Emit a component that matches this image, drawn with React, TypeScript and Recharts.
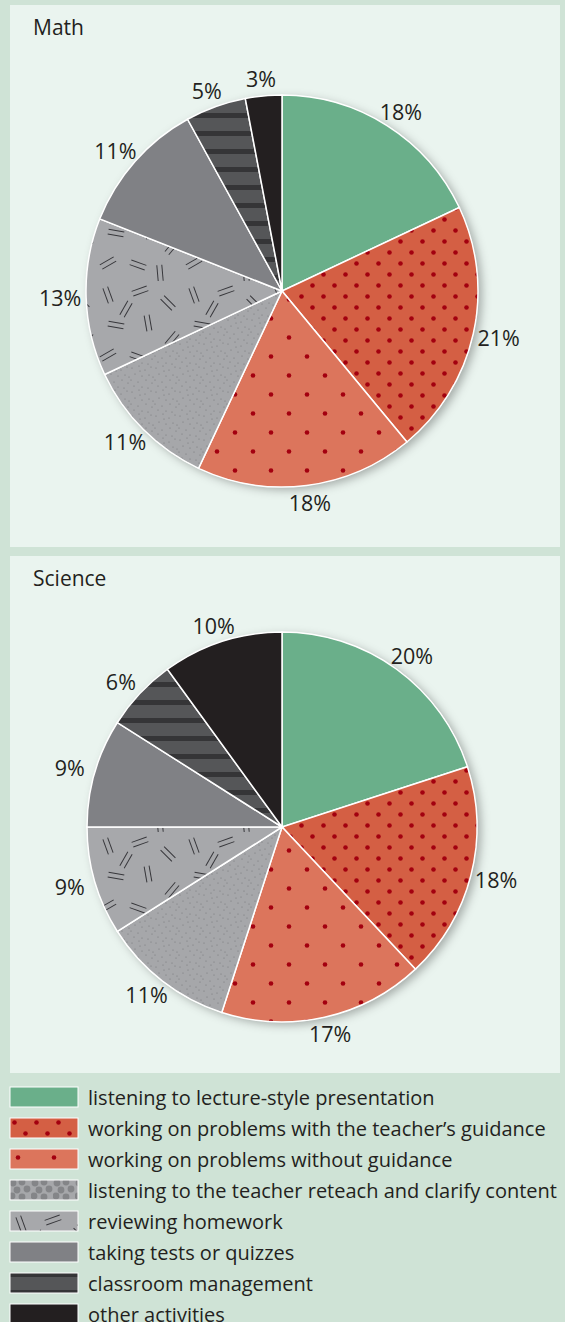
import React from 'react';
import { PieChart, Pie, Cell } from 'recharts';

const categories = [
  'listening to lecture-style presentation',
  'working on problems with the teacher\u2019s guidance',
  'working on problems without guidance',
  'listening to the teacher reteach and clarify content',
  'reviewing homework',
  'taking tests or quizzes',
  'classroom management',
  'other activities',
];
const mathValues = [18, 21, 18, 11, 13, 11, 5, 3];
const scienceValues = [20, 18, 17, 11, 9, 9, 6, 10];
const chartTitles = ['Math', 'Science'];

const fills = [
  '#6aaf8a',
  'url(#redDense)',
  'url(#redSparse)',
  'url(#stipple)',
  'url(#dashes)',
  '#808185',
  'url(#stripes)',
  '#231f20',
];
const legendFills = [
  '#6aaf8a',
  'url(#redDense)',
  'url(#redSparse)',
  'url(#circles)',
  'url(#dashes)',
  '#808185',
  'url(#stripes)',
  '#231f20',
];

const OUTER_BG = '#cfe3d6';
const PANEL_BG = '#eaf4ef';
const TEXT = '#231f20';
const FONT = '"Open Sans", "Noto Sans", sans-serif';

const stippleDots = [
  [2, 3], [9, 1], [15, 5], [21, 2], [5, 9], [12, 11], [19, 10], [1, 15],
  [8, 17], [16, 15], [22, 18], [4, 21], [12, 22], [18, 23], [10, 6], [23, 12],
];
const dashMarks = [
  [12, 14, 70], [44, 10, -20], [72, 22, 45], [20, 44, 10], [52, 42, 80],
  [76, 58, -50], [12, 74, -30], [42, 76, 20], [64, 84, 85], [30, 28, 120],
];
const circleDots = [
  [4, 4], [13, 3], [8, 11], [18, 10], [3, 17], [13, 18],
];

const Patterns = () => (
  <svg width={0} height={0} style={{ position: 'absolute' }}>
    <defs>
      <pattern id="redDense" patternUnits="userSpaceOnUse" width={22} height={22}>
        <rect width={22} height={22} fill="#d45f44" />
        <circle cx={5.5} cy={5.5} r={2.3} fill="#a3000f" />
        <circle cx={16.5} cy={16.5} r={2.3} fill="#a3000f" />
      </pattern>
      <pattern id="redSparse" patternUnits="userSpaceOnUse" width={36} height={38}>
        <rect width={36} height={38} fill="#dc755c" />
        <circle cx={9} cy={9.5} r={2.3} fill="#a3000f" />
        <circle cx={27} cy={28.5} r={2.3} fill="#a3000f" />
      </pattern>
      <pattern id="stipple" patternUnits="userSpaceOnUse" width={24} height={24}>
        <rect width={24} height={24} fill="#a6a7aa" />
        {stippleDots.map(([x, y], i) => (
          <circle key={i} cx={x} cy={y} r={0.6} fill="#77787b" />
        ))}
      </pattern>
      <pattern id="dashes" patternUnits="userSpaceOnUse" width={86} height={92}>
        <rect width={86} height={92} fill="#a7a8ab" />
        {dashMarks.map(([x, y, a], i) => (
          <g key={i} transform={`translate(${x},${y}) rotate(${a})`}>
            <line x1={-8} y1={-2.5} x2={8} y2={-2.5} stroke="#36363a" strokeWidth={1} />
            <line x1={-8} y1={2.5} x2={8} y2={2.5} stroke="#36363a" strokeWidth={1} />
          </g>
        ))}
      </pattern>
      <pattern id="stripes" patternUnits="userSpaceOnUse" width={18} height={18}>
        <rect width={18} height={18} fill="#555658" />
        <rect y={0} width={18} height={5} fill="#353537" />
      </pattern>
      <pattern id="circles" patternUnits="userSpaceOnUse" width={22} height={22}>
        <rect width={22} height={22} fill="#a6a7aa" />
        {circleDots.map(([x, y], i) => (
          <circle key={i} cx={x} cy={y} r={3.4} fill="#848588" />
        ))}
      </pattern>
      <filter id="pieShadow" x="-20%" y="-20%" width="140%" height="140%">
        <feDropShadow dx={4} dy={3} stdDeviation={5} floodColor="#000" floodOpacity={0.3} />
      </filter>
    </defs>
  </svg>
);

const RADIAN = Math.PI / 180;
const renderLabel = (props: any) => {
  const { cx, cy, midAngle, outerRadius, value } = props;
  const rx = outerRadius + 26;
  const ry = outerRadius + 17;
  const x = cx + rx * Math.cos(-midAngle * RADIAN);
  const y = cy + ry * Math.sin(-midAngle * RADIAN);
  return (
    <text x={x} y={y} fill={TEXT} textAnchor="middle" dominantBaseline="central"
      fontSize={21.5} fontWeight={500} fontFamily={FONT}>
      {`${value}%`}
    </text>
  );
};

const PiePanel = ({ title, values, top, height, cy, radius }: any) => {
  const data = categories.map((name, i) => ({ name, value: values[i] }));
  return (
    <div style={{ position: 'absolute', left: 10, top, width: 550, height, background: PANEL_BG }}>
      <div style={{ position: 'absolute', left: 23, top: 9, fontSize: 21, fontWeight: 500, lineHeight: '26px', color: TEXT, fontFamily: FONT }}>
        {title}
      </div>
      <PieChart width={550} height={height} margin={{ top: 0, right: 0, bottom: 0, left: 0 }}
        style={{ position: 'absolute', left: 0, top: 0 }}>
        <Pie data={[{ name: 'shadow', value: 1 }]} dataKey="value" cx={272} cy={cy}
          outerRadius={radius} startAngle={90} endAngle={-270} stroke="none"
          isAnimationActive={false} label={false}>
          <Cell fill={PANEL_BG} filter="url(#pieShadow)" />
        </Pie>
        <Pie data={data} dataKey="value" cx={272} cy={cy} outerRadius={radius}
          startAngle={90} endAngle={-270} stroke="#ffffff" strokeWidth={1.5}
          isAnimationActive={false} label={renderLabel} labelLine={false}>
          {data.map((d, i) => (
            <Cell key={d.name} fill={fills[i]} />
          ))}
        </Pie>
      </PieChart>
    </div>
  );
};

export default function App() {
  return (
    <div style={{ position: 'absolute', left: 0, top: 0, width: 565, height: 1322, background: OUTER_BG, overflow: 'hidden', fontFamily: FONT }}>
      <Patterns />
      <PiePanel title={chartTitles[0]} values={mathValues} top={5} height={542} cy={286} radius={196} />
      <PiePanel title={chartTitles[1]} values={scienceValues} top={556} height={517} cy={271} radius={195} />
      <div style={{ position: 'absolute', left: 0, top: 1082, width: 565 }}>
        {categories.map((c, i) => (
          <div key={c} style={{ position: 'absolute', left: 0, top: i * 31, height: 31, width: 565 }}>
            <svg width={70} height={22} style={{ position: 'absolute', left: 9, top: 4 }}>
              <rect x={1} y={1} width={68} height={20} fill={legendFills[i]} stroke="#ffffff" strokeWidth={1} />
            </svg>
            <div style={{ position: 'absolute', left: 88, top: 0, lineHeight: '31px', fontSize: 20, fontWeight: 500, color: TEXT, whiteSpace: 'nowrap' }}>
              {c}
            </div>
          </div>
        ))}
      </div>
    </div>
  );
}
